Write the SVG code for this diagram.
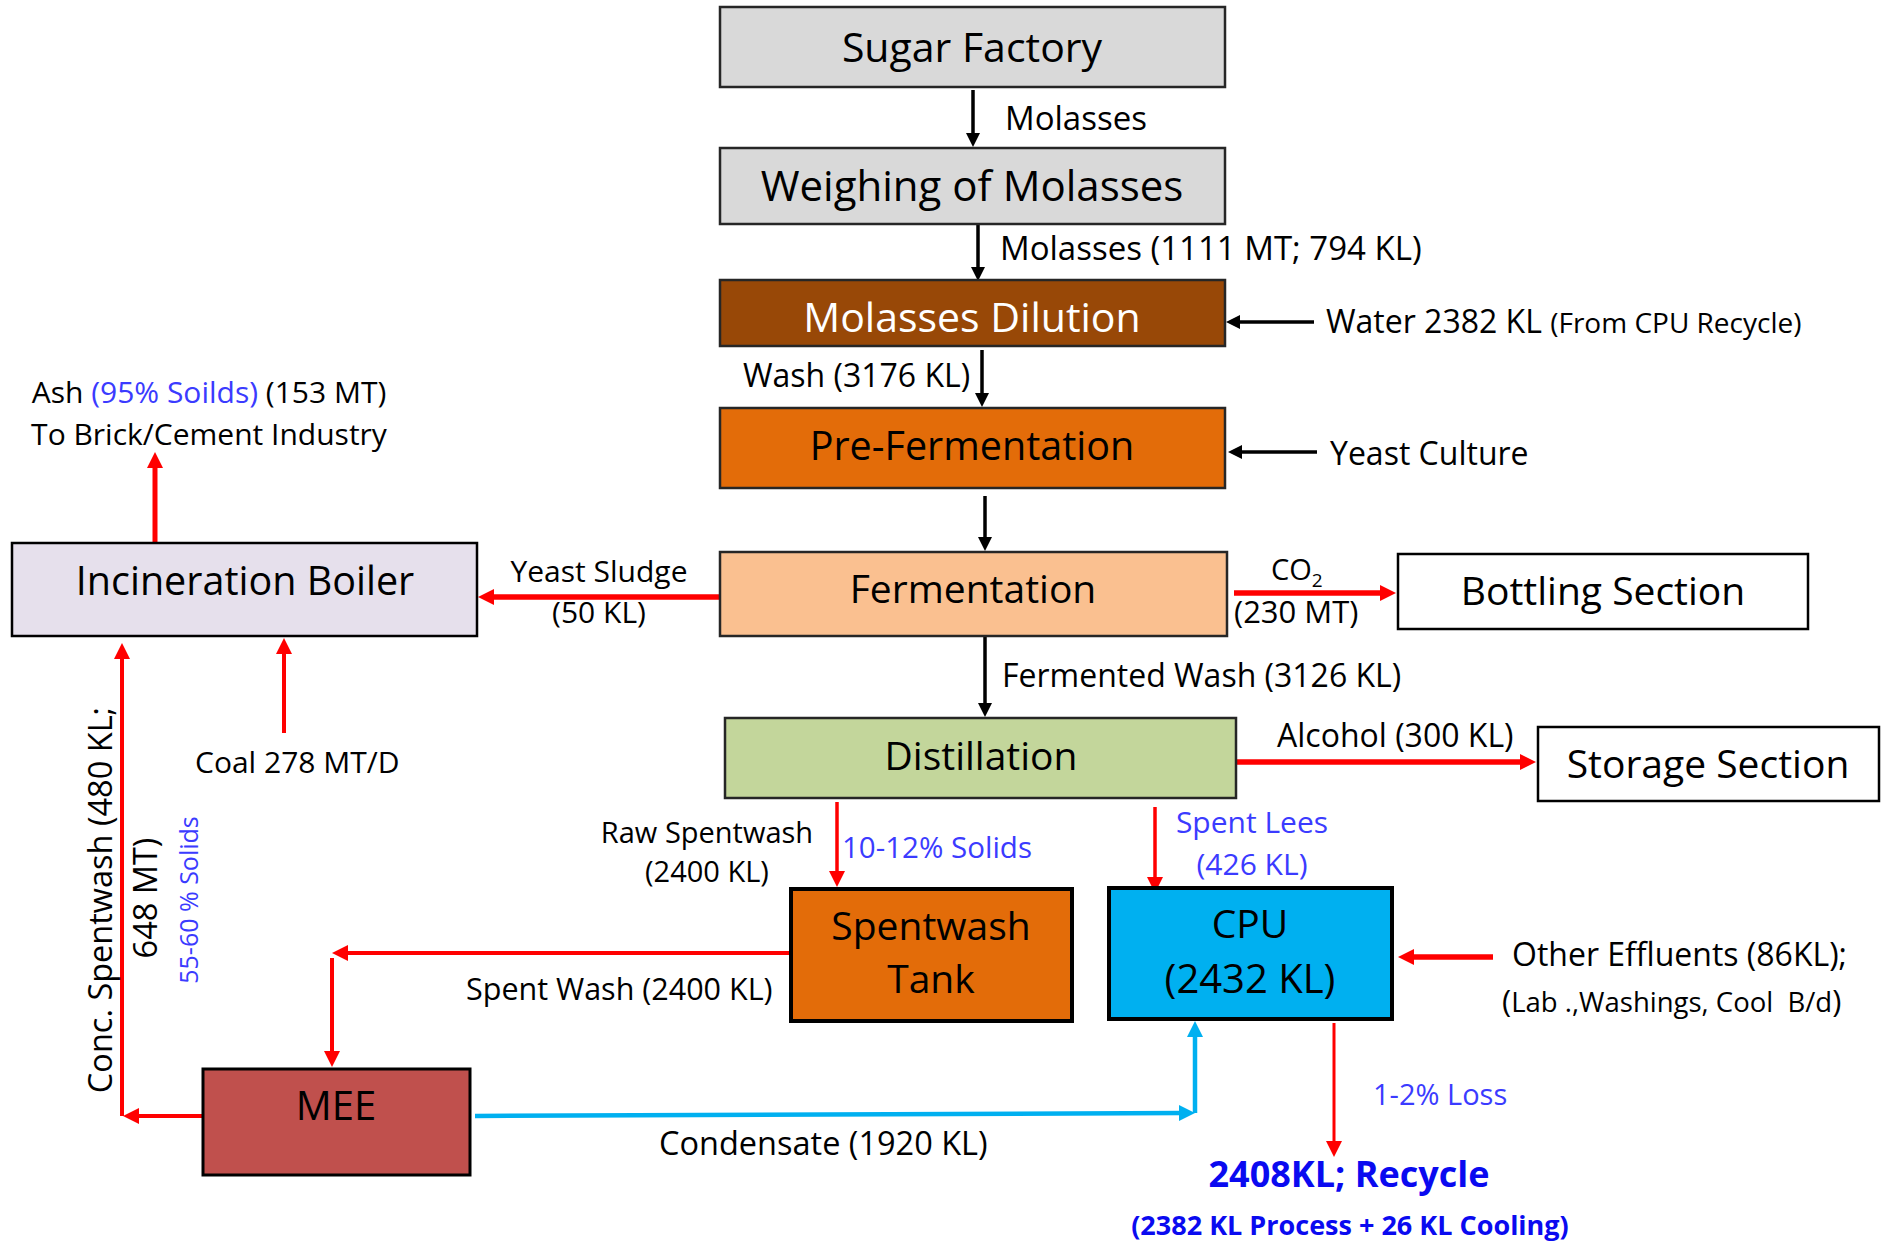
<svg xmlns="http://www.w3.org/2000/svg" width="1883" height="1244" viewBox="0 0 1883 1244">
<style>
text{font-family:"Open Sans","Noto Sans","DejaVu Sans",sans-serif;fill:#000}
.node{stroke:#262626;stroke-width:2.5}
.thick{stroke:#000;stroke-width:4}
.nt{font-size:40px;text-anchor:middle}
.lbl{font-size:32px}
.sm{font-size:30px}
.blue{fill:#3b3bff}
.bb{fill:#0a0af0;font-weight:bold;text-anchor:middle}
.cb{fill:none;stroke:#000;stroke-width:3.5}
.cr{fill:none;stroke:#ff0000;stroke-width:4}
.cl{fill:none;stroke:#00b0f0;stroke-width:4.5}
</style>
<defs>
<marker id="hb" markerUnits="userSpaceOnUse" markerWidth="16" markerHeight="14" refX="4" refY="7" orient="auto"><path d="M0,0 L14,7 L0,14 z" fill="#000"/></marker>
<marker id="hr" markerUnits="userSpaceOnUse" markerWidth="18" markerHeight="18" refX="4" refY="8" orient="auto"><path d="M0,0 L16,8 L0,16 z" fill="#ff0000"/></marker>
<marker id="hl" markerUnits="userSpaceOnUse" markerWidth="18" markerHeight="18" refX="4" refY="8" orient="auto"><path d="M0,0 L16,8 L0,16 z" fill="#00b0f0"/></marker>
</defs>

<g id="connectors">
<path class="cb" d="M973,90 V137" marker-end="url(#hb)"/>
<path class="cb" d="M978,225 V271" marker-end="url(#hb)"/>
<path class="cb" d="M982,350 V397" marker-end="url(#hb)"/>
<path class="cb" d="M1314,322 H1236" marker-end="url(#hb)"/>
<path class="cb" d="M1317,452 H1238" marker-end="url(#hb)"/>
<path class="cb" d="M985,496 V541" marker-end="url(#hb)"/>
<path class="cb" d="M985,637 V707" marker-end="url(#hb)"/>
<path class="cr" style="stroke-width:5.5" d="M719,597 H490" marker-end="url(#hr)"/>
<path class="cr" style="stroke-width:5.5" d="M1234,593 H1384" marker-end="url(#hr)"/>
<path class="cr" style="stroke-width:5.5" d="M1237,762 H1524" marker-end="url(#hr)"/>
<path class="cr" style="stroke-width:5" d="M155,546 V464" marker-end="url(#hr)"/>
<path class="cr" d="M284,733 V650" marker-end="url(#hr)"/>
<path class="cr" d="M122,1116 V655" marker-end="url(#hr)"/>
<path class="cr" d="M202,1116 H135" marker-end="url(#hr)"/>
<path class="cr" d="M791,953 H344" marker-end="url(#hr)"/>
<path class="cr" d="M332,958 V1055" marker-end="url(#hr)"/>
<path class="cr" style="stroke-width:3.5" d="M837,802 V875" marker-end="url(#hr)"/>
<path class="cr" style="stroke-width:3.5" d="M1155,807 V881" marker-end="url(#hr)"/>
<path class="cr" style="stroke-width:5.5" d="M1493,957 H1410" marker-end="url(#hr)"/>
<path class="cr" style="stroke-width:3" d="M1334,1023 V1145" marker-end="url(#hr)"/>
<path class="cl" d="M475,1116 L1183,1113" marker-end="url(#hl)"/>
<path class="cl" d="M1195,1113 V1033" marker-end="url(#hl)"/>
</g>

<g id="sugar-factory">
<rect class="node" x="720" y="7" width="505" height="80" fill="#d9d9d9"/>
<text class="nt" x="972" y="62" style="font-size:41px">Sugar Factory</text>
</g>
<g id="weighing">
<rect class="node" x="720" y="148" width="505" height="76" fill="#d9d9d9"/>
<text class="nt" x="972" y="201" style="font-size:42px">Weighing of Molasses</text>
</g>
<g id="molasses-dilution">
<rect class="node" x="720" y="280" width="505" height="66" fill="#984807"/>
<text class="nt" x="972" y="332" style="font-size:41px;fill:#fff">Molasses Dilution</text>
</g>
<g id="pre-fermentation">
<rect class="node" x="720" y="408" width="505" height="80" fill="#e36c09"/>
<text class="nt" x="972" y="460" style="font-size:39.5px">Pre-Fermentation</text>
</g>
<g id="fermentation">
<rect class="node" x="720" y="552" width="507" height="84" fill="#fac090"/>
<text class="nt" x="973" y="603" style="font-size:39px">Fermentation</text>
</g>
<g id="distillation">
<rect class="node" x="725" y="718" width="511" height="80" fill="#c3d69b"/>
<text class="nt" x="981" y="770" style="font-size:39px">Distillation</text>
</g>
<g id="bottling-section">
<rect class="node" x="1398" y="554" width="410" height="75" fill="#fff" style="stroke:#000"/>
<text class="nt" x="1603" y="605" style="font-size:39px">Bottling Section</text>
</g>
<g id="storage-section">
<rect class="node" x="1538" y="727" width="341" height="74" fill="#fff" style="stroke:#000"/>
<text class="nt" x="1708" y="778" style="font-size:39px">Storage Section</text>
</g>
<g id="incineration-boiler">
<rect class="node" x="12" y="543" width="465" height="93" fill="#e6e0ec" style="stroke:#000"/>
<text class="nt" x="245" y="595" style="font-size:39.5px">Incineration Boiler</text>
</g>
<g id="spentwash-tank">
<rect class="thick" x="791" y="889" width="281" height="132" fill="#e36c09"/>
<text class="nt" x="931" y="940" style="font-size:39px">Spentwash</text>
<text class="nt" x="931" y="993" style="font-size:39px">Tank</text>
</g>
<g id="cpu">
<rect class="thick" x="1109" y="888" width="283" height="131" fill="#00b0f0"/>
<text class="nt" x="1250" y="938" style="font-size:39px">CPU</text>
<text class="nt" x="1250" y="993" style="font-size:40px">(2432 KL)</text>
</g>
<g id="mee">
<rect class="thick" x="203" y="1069" width="267" height="106" fill="#c0504d" style="stroke-width:3"/>
<text class="nt" x="336" y="1120" style="font-size:40px">MEE</text>
</g>

<g id="labels">
<text class="lbl" x="1005" y="130" style="font-size:33px">Molasses</text>
<text class="lbl" x="1000" y="260" style="font-size:33px">Molasses (1111 MT; 794 KL)</text>
<text class="lbl" x="1326" y="333">Water 2382 KL <tspan style="font-size:28px">(From CPU Recycle)</tspan></text>
<text class="lbl" x="743" y="387">Wash (3176 KL)</text>
<text class="lbl" x="1330" y="465">Yeast Culture</text>
<text class="sm" x="1271" y="580" style="font-size:29px">CO<tspan style="font-size:19px" dy="7">2</tspan></text>
<text class="sm" x="1234" y="623" style="font-size:31px">(230 MT)</text>
<text class="lbl" x="1002" y="687">Fermented Wash (3126 KL)</text>
<text class="lbl" x="1277" y="747">Alcohol (300 KL)</text>
<text class="sm" x="599" y="582" text-anchor="middle">Yeast Sludge</text>
<text class="sm" x="599" y="623" text-anchor="middle">(50 KL)</text>
<text class="sm" x="209" y="403" text-anchor="middle">Ash <tspan class="blue">(95% Soilds)</tspan> (153 MT)</text>
<text class="sm" x="209" y="445" text-anchor="middle">To Brick/Cement Industry</text>
<text class="sm" x="195" y="773">Coal 278 MT/D</text>
<text class="sm" x="707" y="843" text-anchor="middle" style="font-size:29px">Raw Spentwash</text>
<text class="sm" x="707" y="882" text-anchor="middle" style="font-size:29px">(2400 KL)</text>
<text class="sm blue" x="842" y="858" style="font-size:29.5px">10-12% Solids</text>
<text class="sm blue" x="1252" y="833" text-anchor="middle">Spent Lees</text>
<text class="sm blue" x="1252" y="875" text-anchor="middle">(426 KL)</text>
<text class="sm" x="466" y="1000" style="font-size:30.5px">Spent Wash (2400 KL)</text>
<text class="lbl" x="659" y="1155" style="font-size:32.5px">Condensate (1920 KL)</text>
<text class="lbl" x="1512" y="966">Other Effluents (86KL);</text>
<text class="sm" x="1502" y="1012" style="font-size:31px">(<tspan style="font-size:27.5px">Lab .,Washings, Cool&#160; B/d</tspan>)</text>
<text class="sm blue" x="1373" y="1105" style="font-size:29px">1-2% Loss</text>
<text class="bb" x="1349" y="1187" style="font-size:36px">2408KL; Recycle</text>
<text class="bb" x="1350" y="1235" style="font-size:27px">(2382 KL Process + 26 KL Cooling)</text>
<text class="lbl" transform="translate(112,900) rotate(-90)" text-anchor="middle" style="font-size:32.5px">Conc. Spentwash (480 KL;</text>
<text class="lbl" transform="translate(157,898) rotate(-90)" text-anchor="middle" style="font-size:32.5px">648 MT)</text>
<text class="blue" transform="translate(198,900) rotate(-90)" text-anchor="middle" style="font-size:25px">55-60 % Solids</text>
</g>
</svg>
